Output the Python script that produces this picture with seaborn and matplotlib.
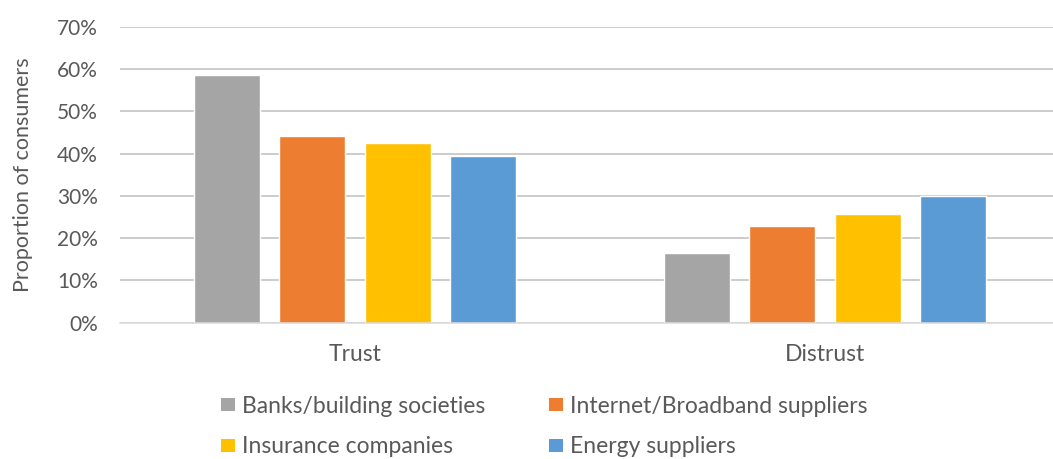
import matplotlib
matplotlib.use("Agg")
import matplotlib.pyplot as plt
from matplotlib.ticker import FuncFormatter, MultipleLocator
from matplotlib.patches import Patch
import seaborn as sns
import pandas as pd

# Survey results: share of consumers who trust / distrust each type of provider
categories = ["Trust", "Distrust"]
providers = ["Banks/building societies", "Internet/Broadband suppliers",
             "Insurance companies", "Energy suppliers"]
banks = [0.586, 0.166]
internet = [0.442, 0.229]
insurance = [0.425, 0.256]
energy = [0.394, 0.300]
colors = ["#A5A5A5", "#ED7D31", "#FFC000", "#5B9BD5"]

rows = []
for prov, vals in zip(providers, [banks, internet, insurance, energy]):
    for cat, v in zip(categories, vals):
        rows.append({"category": cat, "provider": prov, "share": v})
df = pd.DataFrame(rows)

sns.set_theme(style="white")
plt.rcParams["font.family"] = ["Lato", "DejaVu Sans"]
text_color = "#595959"

fig = plt.figure(figsize=(10.53, 4.59), dpi=100)
ax = fig.add_axes([120 / 1053, (459 - 322.7) / 459, 940 / 1053, 296 / 459])

sns.barplot(data=df, x="category", y="share", hue="provider",
            order=categories, hue_order=providers, palette=colors,
            width=0.728, gap=0.23, saturation=1, ax=ax, legend=False)

ax.set_ylim(0, 0.70)
ax.set_xlim(-0.5, 1.5)
ax.yaxis.set_major_locator(MultipleLocator(0.10))
ax.yaxis.set_major_formatter(FuncFormatter(lambda v, _: f"{v * 100:.0f}%"))
ax.grid(axis="y", color="#BFBFBF", linewidth=1.1)
ax.set_axisbelow(True)
for side in ["top", "right", "left"]:
    ax.spines[side].set_visible(False)
ax.spines["bottom"].set_color("#D9D9D9")
ax.spines["bottom"].set_linewidth(1.1)

ax.tick_params(axis="y", length=0, pad=16, labelsize=15, labelcolor=text_color)
ax.tick_params(axis="x", length=0, pad=15, labelsize=16.5, labelcolor=text_color)
ax.set_xlabel("")
ax.set_ylabel("Proportion of consumers", fontsize=15.5, color=text_color, labelpad=17)

# legend laid out row by row: Banks | Internet / Insurance | Energy
handles = [Patch(facecolor=c, edgecolor="none") for c in colors]
order = [0, 2, 1, 3]
fig.legend([handles[i] for i in order], [providers[i] for i in order],
           ncol=2, loc="upper left", bbox_to_anchor=(221 / 1053, 1 - 396 / 459),
           frameon=False, fontsize=16.5, labelcolor=text_color,
           borderpad=0, borderaxespad=0,
           handlelength=0.6, handleheight=0.5, handletextpad=0.3,
           columnspacing=2.8, labelspacing=0.85)

fig.savefig("out.png", dpi=100)
